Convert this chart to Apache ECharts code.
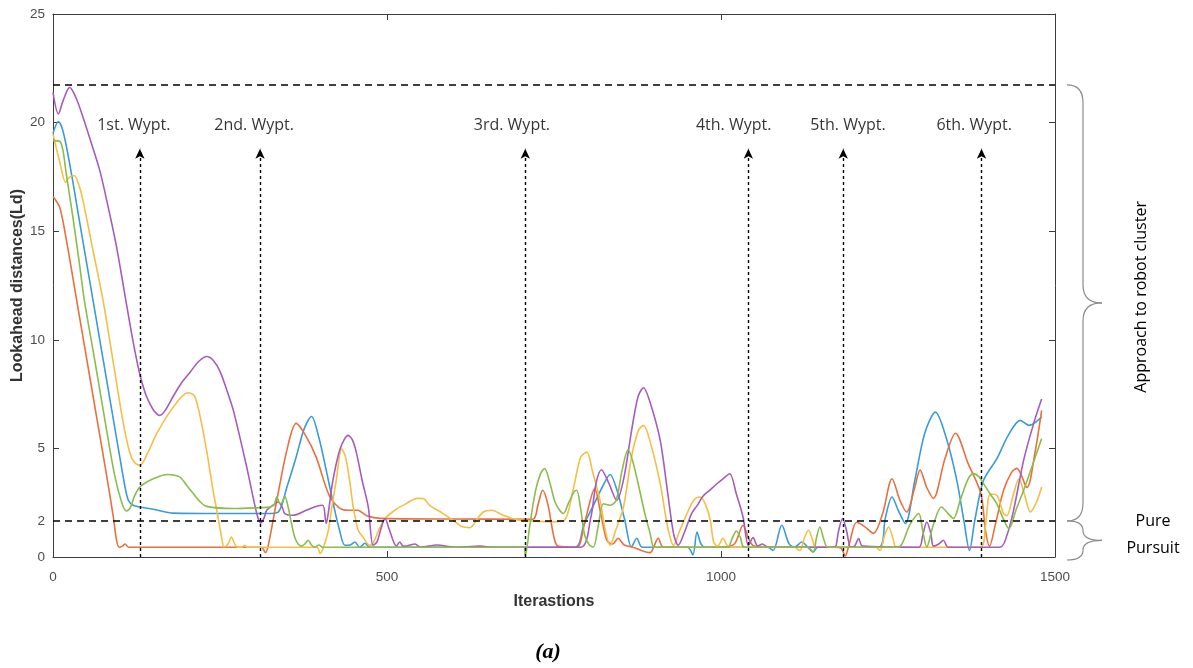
<!DOCTYPE html>
<html><head><meta charset="utf-8">
<script src="https://cdn.jsdelivr.net/npm/echarts/dist/echarts.min.js"></script>
<style>html,body{margin:0;padding:0;background:#fff}#c{width:1193px;height:668px}</style>
</head><body><div id="c"></div>
<script>
// ---- data (iteration, lookahead distance) ----
const blueData = [[0,19.5],[8,20.05],[15,19.6],[25,18.1],[40,15.4],[55,12.7],[70,10.0],[85,7.3],[100,4.6],[108,3.2],[113,2.6],[120,2.38],[130,2.3],[150,2.2],[180,2.02],[250,2.0],[320,2.0],[337,2.07],[350,3.2],[364,4.6],[376,5.9],[387,6.47],[398,5.5],[409,4.0],[420,2.4],[429,1.23],[437,0.54],[445,0.55],[452,0.69],[459,0.45],[467,0.63],[474,0.45],[600,0.45],[781,0.45],[795,1.5],[809,2.38],[822,3.2],[834,3.8],[845,3.0],[856,1.69],[866,0.46],[874,0.86],[882,0.45],[950,0.45],[958,0.1],[964,1.15],[970,0.6],[976,0.45],[1070,0.45],[1078,0.3],[1091,1.46],[1102,0.6],[1110,0.45],[1121,0.69],[1130,0.45],[1138,0.23],[1145,0.45],[1236,0.45],[1246,1.8],[1256,2.76],[1266,2.1],[1276,1.54],[1290,3.5],[1305,5.7],[1321,6.67],[1338,5.4],[1353,3.53],[1364,1.6],[1372,0.3],[1380,1.7],[1393,3.53],[1413,4.53],[1430,5.6],[1448,6.29],[1461,6.06],[1480,6.44]];
const orangeData = [[0,16.6],[10,16.1],[20,14.6],[35,11.9],[50,9.2],[65,6.5],[80,3.8],[90,1.9],[95,0.8],[99,0.45],[104,0.5],[108,0.6],[113,0.45],[200,0.45],[312,0.45],[318,0.2],[322,0.5],[335,2.6],[350,4.9],[364,6.15],[378,5.6],[394,4.6],[414,2.8],[432,2.2],[446,2.15],[456,2.15],[470,1.9],[490,1.78],[600,1.75],[718,1.74],[726,2.4],[733,3.07],[741,2.4],[750,0.9],[756,0.5],[784,0.45],[796,1.6],[811,3.15],[820,2.0],[829,0.77],[838,0.6],[846,0.86],[855,0.55],[868,0.45],[894,0.2],[899,0.45],[906,0.86],[914,0.45],[1000,0.45],[1020,0.6],[1033,1.46],[1042,0.8],[1050,0.5],[1100,0.45],[1170,0.45],[1180,0.4],[1186,0.05],[1192,0.6],[1203,1.6],[1215,1.4],[1228,1.09],[1242,2.0],[1256,3.6],[1268,2.6],[1278,2.07],[1290,3.2],[1298,4.0],[1308,3.2],[1318,2.7],[1335,4.5],[1351,5.7],[1370,4.3],[1389,2.93],[1396,1.2],[1402,0.5],[1410,1.4],[1423,3.07],[1435,3.9],[1443,4.08],[1458,3.2],[1470,4.8],[1480,6.75]];
const yellowData = [[0,19.47],[10,18.2],[19,17.25],[25,17.5],[32,17.55],[40,17.0],[45,16.4],[60,14.1],[75,11.8],[90,9.0],[105,6.2],[115,4.8],[122,4.35],[130,4.22],[142,4.8],[155,5.67],[180,6.9],[202,7.56],[212,7.4],[220,6.5],[230,4.9],[240,3.0],[247,1.84],[253,0.8],[256,0.46],[262,0.6],[267,0.92],[272,0.6],[276,0.45],[283,0.45],[287,0.54],[291,0.45],[395,0.45],[400,0.16],[405,0.45],[412,1.2],[418,2.4],[424,3.53],[432,4.98],[438,4.6],[444,3.53],[450,2.2],[457,1.23],[464,0.92],[474,0.54],[480,0.7],[490,1.4],[499,1.84],[514,2.2],[529,2.46],[545,2.7],[554,2.69],[564,2.38],[584,2.0],[599,1.69],[612,1.4],[624,1.35],[634,1.7],[644,2.07],[657,2.15],[674,1.92],[694,1.72],[720,1.65],[749,1.62],[766,1.7],[780,3.3],[790,4.6],[799,4.83],[808,3.9],[819,2.6],[827,1.2],[834,0.54],[842,1.2],[854,2.3],[866,4.6],[876,5.8],[884,6.06],[894,5.3],[909,3.38],[920,1.4],[929,0.54],[938,1.2],[949,2.0],[960,2.65],[969,2.76],[977,2.4],[984,1.69],[989,0.69],[995,0.5],[1003,0.86],[1010,0.5],[1020,0.45],[1110,0.45],[1118,0.3],[1125,0.9],[1131,1.23],[1137,0.8],[1142,0.45],[1232,0.45],[1238,0.3],[1245,1.0],[1251,1.38],[1257,0.9],[1263,0.45],[1388,0.45],[1396,1.5],[1403,2.9],[1413,2.84],[1423,2.0],[1428,1.9],[1437,2.8],[1446,3.6],[1455,2.8],[1463,2.07],[1472,2.5],[1480,3.22]];
const purpleData = [[0,21.39],[8,20.4],[15,21.0],[25,21.62],[35,21.1],[45,20.24],[57,19.1],[70,17.8],[82,16.2],[95,14.3],[108,12.0],[120,9.9],[130,8.4],[138,7.55],[145,7.06],[152,6.7],[160,6.52],[168,6.75],[180,7.4],[192,8.0],[205,8.5],[218,9.0],[230,9.23],[240,9.05],[250,8.55],[260,7.7],[270,6.75],[290,4.14],[305,2.0],[311,1.56],[316,1.8],[320,2.15],[329,2.38],[337,2.53],[343,2.3],[347,2.0],[359,1.92],[379,2.15],[396,2.35],[404,2.38],[409,1.54],[412,2.0],[419,3.53],[430,5.0],[442,5.6],[448,5.4],[454,4.83],[463,3.5],[472,2.3],[479,0.54],[485,0.7],[491,1.3],[497,1.77],[503,1.3],[509,0.77],[514,0.5],[519,0.69],[524,0.5],[530,0.51],[542,0.6],[550,0.45],[575,0.55],[600,0.45],[640,0.5],[660,0.45],[700,0.45],[790,0.45],[805,1.8],[813,3.4],[821,4.02],[832,3.4],[844,2.61],[855,3.7],[866,5.8],[876,7.4],[884,7.79],[893,7.2],[909,5.37],[920,3.0],[929,1.07],[936,0.54],[946,1.2],[956,2.0],[965,2.4],[973,2.8],[983,3.07],[993,3.35],[1003,3.6],[1013,3.83],[1023,2.9],[1033,1.84],[1041,0.54],[1048,0.89],[1055,0.5],[1062,0.6],[1070,0.45],[1165,0.45],[1171,0.46],[1176,1.2],[1182,1.77],[1188,1.2],[1194,0.46],[1200,0.5],[1206,0.85],[1212,0.5],[1296,0.45],[1302,1.0],[1308,1.61],[1314,1.1],[1318,0.5],[1326,0.6],[1333,0.77],[1340,0.45],[1418,0.45],[1428,1.0],[1438,2.15],[1453,4.45],[1468,6.14],[1480,7.27]];
const greenData = [[0,19.17],[10,19.14],[15,18.7],[20,17.6],[30,15.6],[40,13.4],[47,11.8],[60,9.5],[75,6.8],[92,3.8],[103,2.5],[110,2.12],[116,2.3],[122,2.8],[130,3.22],[150,3.6],[172,3.8],[190,3.68],[200,3.3],[210,2.92],[220,2.55],[230,2.33],[270,2.23],[310,2.27],[325,2.3],[331,2.4],[335,2.76],[340,2.45],[343,2.5],[347,2.8],[352,2.3],[357,1.54],[362,0.9],[367,0.6],[372,0.5],[377,0.6],[382,0.77],[387,0.55],[392,0.45],[398,0.55],[404,0.45],[705,0.45],[707,0.05],[714,1.5],[722,3.0],[730,3.85],[736,4.07],[744,3.4],[752,2.5],[764,2.0],[772,2.5],[780,3.0],[784,3.07],[790,2.2],[796,1.0],[803,0.55],[809,0.46],[816,1.4],[824,2.45],[834,2.38],[843,2.6],[852,4.0],[861,4.95],[868,4.4],[876,3.37],[886,2.0],[894,1.07],[899,0.46],[905,0.45],[1010,0.45],[1016,0.8],[1023,1.2],[1029,0.9],[1035,0.45],[1130,0.45],[1138,0.23],[1143,0.9],[1148,1.38],[1154,0.8],[1160,0.45],[1265,0.45],[1271,0.6],[1283,1.5],[1296,2.0],[1302,1.2],[1308,0.46],[1318,1.5],[1330,2.3],[1340,2.0],[1348,1.77],[1358,2.6],[1370,3.6],[1378,3.84],[1386,3.7],[1393,3.38],[1403,2.9],[1413,2.45],[1422,1.8],[1431,1.3],[1442,2.2],[1453,3.07],[1466,4.2],[1480,5.45]];

const waypointIter = [130, 310, 707, 1041, 1183, 1390];
const waypointLabels = ['1st. Wypt.', '2nd. Wypt.', '3rd. Wypt.', '4th. Wypt.', '5th. Wypt.', '6th. Wypt.'];
const waypointLabelIter = [121, 301, 687, 1019, 1190, 1379];
const arrowTop = 18.8;
const labelLevel = 19.86;
const clusterLevel = 21.74;
const purePursuitLevel = 1.66;

const xTicks = [0, 500, 1000, 1500];
const yTicks = [0, 5, 10, 15, 20, 25];

// ---- chart ----
const chart = echarts.init(document.getElementById('c'), null, {renderer: 'canvas'});
const TICK_FONT = {color: '#4d4d4d', fontSize: 13.5, fontFamily: 'Liberation Sans, Arial, sans-serif'};
const AX_COLOR = '#3c3c3c';
const lineSeries = (name, data, color) => ({
  name, type: 'line', data, smooth: 0.3, showSymbol: false, symbol: 'none', clip: true,
  lineStyle: {color, width: 1.6}, itemStyle: {color}, xAxisIndex: 0, yAxisIndex: 0
});

const wayLines = waypointIter.map(x => [{coord: [x, 0]}, {coord: [x, arrowTop]}]);

const series = [
  lineSeries('s1', blueData, '#3b9bd8'),
  lineSeries('s2', orangeData, '#e8703e'),
  lineSeries('s3', yellowData, '#f3bf45'),
  lineSeries('s4', purpleData, '#a55cbd'),
  lineSeries('s5', greenData, '#8abd4b'),
  {
    name: 'refs', type: 'line', data: [], xAxisIndex: 0, yAxisIndex: 0,
    markLine: {
      silent: true, symbol: 'none', animation: false,
      lineStyle: {color: '#000', type: [7, 5], width: 1.6},
      data: [
        {yAxis: clusterLevel, label: {show: false}},
        {yAxis: purePursuitLevel, label: {show: true, position: 'start', formatter: '2', distance: 8, ...TICK_FONT}}
      ]
    }
  },
  {
    name: 'waypoints', type: 'line', data: [], xAxisIndex: 0, yAxisIndex: 0,
    markLine: {
      silent: true, symbol: ['none', 'arrow'], symbolSize: [7, 10], animation: false,
      lineStyle: {color: '#000', type: [3, 3], width: 1.4},
      label: {show: false},
      data: wayLines
    }
  },
  {
    name: 'wayLabels', type: 'scatter', symbolSize: 0, xAxisIndex: 0, yAxisIndex: 0,
    data: waypointLabelIter.map(x => [x, labelLevel]),
    label: {
      show: true, position: 'inside', color: '#000', fontSize: 16,
      fontFamily: 'Open Sans, sans-serif',
      formatter: p => waypointLabels[p.dataIndex]
    },
    emphasis: {disabled: true},
    silent: true
  }
];

chart.setOption({
  animation: false,
  backgroundColor: '#fff',
  grid: {left: 53, top: 14, right: 138, bottom: 111, containLabel: false, outerBoundsMode: 'none'},
  xAxis: [
    {
      type: 'value', min: 0, max: 1500, interval: 500, position: 'bottom',
      name: 'Iterastions', nameLocation: 'middle', nameGap: 37,
      nameTextStyle: {fontSize: 16, fontWeight: 'bold', color: '#333', fontFamily: 'Liberation Sans, Arial, sans-serif'},
      axisLine: {show: true, onZero: false, lineStyle: {color: AX_COLOR, width: 1}},
      axisTick: {show: true, inside: true, length: 6, lineStyle: {color: AX_COLOR}},
      axisLabel: {...TICK_FONT, margin: 13, formatter: v => xTicks.includes(v) ? String(v) : ''},
      splitLine: {show: false}
    },
    {
      type: 'value', min: 0, max: 1500, interval: 500, position: 'top',
      axisLine: {show: true, onZero: false, lineStyle: {color: AX_COLOR, width: 1}},
      axisTick: {show: true, inside: true, length: 6, lineStyle: {color: AX_COLOR}},
      axisLabel: {show: false}, splitLine: {show: false}
    }
  ],
  yAxis: [
    {
      type: 'value', min: 0, max: 25, interval: 5, position: 'left',
      name: 'Lookahead distances(Ld)', nameLocation: 'middle', nameGap: 27, nameRotate: 90,
      nameMoveOverlap: false,
      nameTextStyle: {fontSize: 16, fontWeight: 'bold', color: '#333', fontFamily: 'Liberation Sans, Arial, sans-serif'},
      axisLine: {show: true, onZero: false, lineStyle: {color: AX_COLOR, width: 1}},
      axisTick: {show: true, inside: true, length: 6, lineStyle: {color: AX_COLOR}},
      axisLabel: {...TICK_FONT, margin: 8, formatter: v => yTicks.includes(v) ? String(v) : ''},
      splitLine: {show: false}
    },
    {
      type: 'value', min: 0, max: 25, interval: 5, position: 'right',
      axisLine: {show: true, onZero: false, lineStyle: {color: AX_COLOR, width: 1}},
      axisTick: {show: true, inside: true, length: 6, lineStyle: {color: AX_COLOR}},
      axisLabel: {show: false}, splitLine: {show: false}
    }
  ],
  series
});

// ---- braces and side annotations, positioned from the axis scale ----
const braceStyle = {stroke: '#8a8a8a', lineWidth: 1.2, fill: null};
function braceParts(x0, y1, y2) {
  const xm = x0 + 16, xt = x0 + 35, ym = (y1 + y2) / 2;
  const r = Math.min(18, (y2 - y1) / 4);
  const q = (a, b, c, d, e, f) => ({type: 'bezierCurve', silent: true, style: braceStyle,
    shape: {x1: a, y1: b, cpx1: c, cpy1: d, x2: e, y2: f}});
  const l = (a, b, c, d) => ({type: 'line', silent: true, style: braceStyle,
    shape: {x1: a, y1: b, x2: c, y2: d}});
  return [
    q(x0, y1, xm, y1, xm, y1 + r),
    l(xm, y1 + r, xm, ym - r),
    q(xm, ym - r, xm, ym, xt, ym),
    q(xt, ym, xm, ym, xm, ym + r),
    l(xm, ym + r, xm, y2 - r),
    q(xm, y2 - r, xm, y2, x0, y2)
  ];
}
const px = (x, y) => chart.convertToPixel({xAxisIndex: 0, yAxisIndex: 0}, [x, y]);
const xRight = px(1500, 0)[0];
const yTop = px(0, clusterLevel)[1];
const yMid = px(0, purePursuitLevel)[1];
const yBot = px(0, 0)[1] + 3;
const bx = xRight + 12;
chart.setOption({
  graphic: [
    ...braceParts(bx, yTop, yMid),
    ...braceParts(bx, yMid, yBot),
    {type: 'text', x: bx + 74, y: (yTop + yMid) / 2 - 6, rotation: Math.PI / 2, silent: true,
     style: {text: 'Approach to robot cluster', fontSize: 16, fontFamily: 'Open Sans, sans-serif', fill: '#000',
             textAlign: 'center', textVerticalAlign: 'middle'}},
    {type: 'text', x: bx + 86, y: (yMid + yBot) / 2 - 6, silent: true,
     style: {text: 'Pure\nPursuit', fontSize: 16, lineHeight: 27, fontFamily: 'Open Sans, sans-serif', fill: '#000',
             textAlign: 'center', textVerticalAlign: 'middle'}},
    {type: 'text', x: 548, y: 652, silent: true,
     style: {text: '(a)', fontSize: 22, fontWeight: 'bold', fontStyle: 'italic', fontFamily: 'Liberation Serif, serif', fill: '#000',
             textAlign: 'center', textVerticalAlign: 'middle'}}
  ]
});
</script></body></html>
